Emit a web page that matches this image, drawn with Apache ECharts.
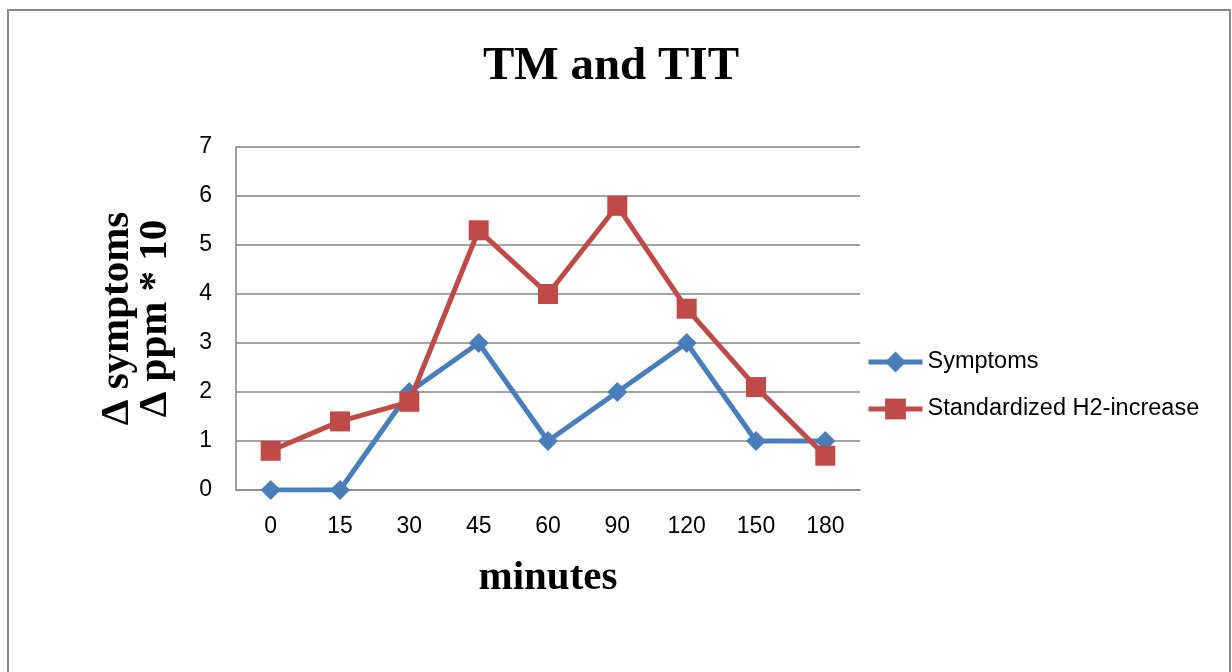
<!DOCTYPE html>
<html>
<head>
<meta charset="utf-8">
<title>TM and TIT</title>
<script src="https://cdn.jsdelivr.net/npm/echarts@6/dist/echarts.min.js"></script>
<style>
  html, body { margin: 0; padding: 0; background: #ffffff; }
  #chart { width: 1232px; height: 672px; }
</style>
</head>
<body>
<div id="chart"></div>
<script>
// Time points (minutes after ingestion)
const minutes = ['0', '15', '30', '45', '60', '90', '120', '150', '180'];

// Change in symptom score
const symptoms = [0, 0, 2, 3, 1, 2, 3, 1, 1];

// H2 increase, standardized (ppm * 10)
const h2Increase = [0.8, 1.4, 1.8, 5.3, 4.0, 5.8, 3.7, 2.1, 0.7];

// Value axis ticks
const yMin = 0;
const yMax = 7;
const yStep = 1;

const gridGrey = '#868686';
const blue = '#4a7ebb';
const red = '#be4b48';
const labelFont = 'Liberation Sans, Arial, sans-serif';
const serifFont = 'Liberation Serif, Times New Roman, serif';

const chart = echarts.init(document.getElementById('chart'), null, { renderer: 'canvas' });

chart.setOption({
  backgroundColor: '#ffffff',
  animation: false,
  title: {
    text: 'TM and TIT',
    left: 478,
    top: 38,
    textStyle: {
      fontFamily: serifFont,
      fontWeight: 'bold',
      fontSize: 47,
      color: '#000000'
    }
  },
  graphic: [{
    type: 'polyline',
    shape: { points: [[8, 672], [8, 10], [1230, 10], [1230, 672]] },
    style: { stroke: '#888888', lineWidth: 2, fill: null },
    silent: true
  }],
  legend: {
    orient: 'vertical',
    left: 861,
    top: 345,
    itemWidth: 54,
    itemHeight: 26,
    itemGap: 23,
    lineStyle: { width: 5 },
    textStyle: {
      fontFamily: labelFont,
      fontSize: 23.5,
      color: '#000000'
    },
    data: ['Symptoms', 'Standardized H2-increase']
  },
  grid: {
    left: 236,
    right: 372,
    top: 147,
    bottom: 182,
    containLabel: false
  },
  xAxis: {
    type: 'category',
    data: minutes,
    boundaryGap: true,
    name: 'minutes',
    nameLocation: 'middle',
    nameGap: 68,
    nameMoveOverlap: false,
    nameTextStyle: {
      fontFamily: serifFont,
      fontWeight: 'bold',
      fontSize: 41,
      color: '#000000'
    },
    axisLine: { show: true, lineStyle: { color: gridGrey, width: 1.5 } },
    axisTick: { show: false },
    axisLabel: {
      margin: 25,
      fontFamily: labelFont,
      fontSize: 23,
      color: '#000000'
    },
    splitLine: { show: false }
  },
  yAxis: {
    type: 'value',
    min: yMin,
    max: yMax,
    interval: yStep,
    name: '\u0394 symptoms\n\u0394 ppm * 10',
    nameLocation: 'middle',
    nameRotate: 90,
    nameGap: 62,
    nameMoveOverlap: false,
    nameTextStyle: {
      fontFamily: serifFont,
      fontWeight: 'bold',
      fontSize: 41,
      lineHeight: 38,
      color: '#000000',
      align: 'center'
    },
    axisLine: { show: true, lineStyle: { color: gridGrey, width: 1.5 } },
    axisTick: { show: false },
    axisLabel: {
      margin: 24,
      fontFamily: labelFont,
      fontSize: 23,
      color: '#000000'
    },
    splitLine: { show: true, lineStyle: { color: gridGrey, width: 1.5 } }
  },
  series: [
    {
      name: 'Symptoms',
      type: 'line',
      data: symptoms,
      symbol: 'diamond',
      symbolSize: 20,
      color: blue,
      lineStyle: { color: blue, width: 5 },
      itemStyle: { color: blue },
      z: 3
    },
    {
      name: 'Standardized H2-increase',
      type: 'line',
      data: h2Increase,
      symbol: 'rect',
      symbolSize: 20,
      color: red,
      lineStyle: { color: red, width: 5 },
      itemStyle: { color: red },
      z: 4
    }
  ]
});
</script>
</body>
</html>
